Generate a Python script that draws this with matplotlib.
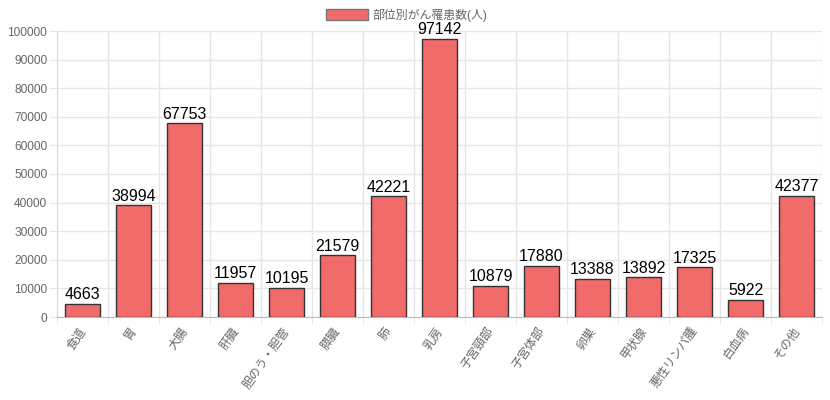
import matplotlib.pyplot as plt
import matplotlib.patches as mpatches
import matplotlib.transforms as mtransforms

plt.rcParams['font.family'] = ['Liberation Sans', 'Noto Sans CJK JP', 'DejaVu Sans']

# data
categories = ["食道", "胃", "大腸", "肝臓", "胆のう・胆管", "膵臓", "肺", "乳房",
              "子宮頸部", "子宮体部", "卵巣", "甲状腺", "悪性リンパ腫", "白血病", "その他"]
counts = [4663, 38994, 67753, 11957, 10195, 21579, 42221, 97142,
          10879, 17880, 13388, 13892, 17325, 5922, 42377]
series_name = "部位別がん罹患数(人)"

bar_col = "#f26b6b"
edge_col = "#333333"
grid_col = "#e6e6e6"
text_col = "#666666"

fig = plt.figure(figsize=(8.3, 4.0), dpi=100)
ax = fig.add_axes([57 / 830, 1 - 317 / 400, 765 / 830, 286 / 400])

x = list(range(len(categories)))
ax.bar(x, counts, width=0.7, color=bar_col, edgecolor=edge_col, linewidth=1, zorder=3)

for xi, v in zip(x, counts):
    ax.text(xi, v + 600, str(v), ha="center", va="bottom", fontsize=11.5,
            color="#000000", zorder=4)

ax.set_xlim(-0.5, len(categories) - 0.5)
ax.set_ylim(0, 100000)
ax.set_yticks(range(0, 100001, 10000))
ax.tick_params(axis="y", labelsize=8.6, colors=text_col, length=5, color=grid_col, pad=2)
ax.set_xticks(x)
ax.set_xticklabels(categories, rotation=55, ha="right", rotation_mode="anchor",
                   fontsize=8.6, color=text_col)
ax.tick_params(axis="x", length=0, pad=6)
shift = mtransforms.ScaledTranslation(-4 / 100, 0, fig.dpi_scale_trans)
for lab in ax.get_xticklabels():
    lab.set_transform(lab.get_transform() + shift)

# gridlines at category boundaries
ax.set_xticks([i - 0.5 for i in range(len(categories) + 1)], minor=True)
ax.tick_params(axis="x", which="minor", length=5, color=grid_col)
ax.grid(True, which="minor", axis="x", color=grid_col, lw=1, zorder=0)
ax.grid(True, which="major", axis="y", color=grid_col, lw=1, zorder=0)

for side in ["top", "right"]:
    ax.spines[side].set_visible(False)
ax.spines["left"].set_color("#d9d9d9")
ax.spines["bottom"].set_color("#bbbbbb")

# legend
handle = mpatches.Patch(facecolor=bar_col, edgecolor="#777777", linewidth=1, label=series_name)
fig.legend(handles=[handle], loc="upper center", bbox_to_anchor=(0.49, 1.005), frameon=False,
           fontsize=8.6, labelcolor=text_col, handlelength=3.5, handleheight=1.0,
           handletextpad=0.4)

plt.savefig("out.png", dpi=100)
plt.close("all")
